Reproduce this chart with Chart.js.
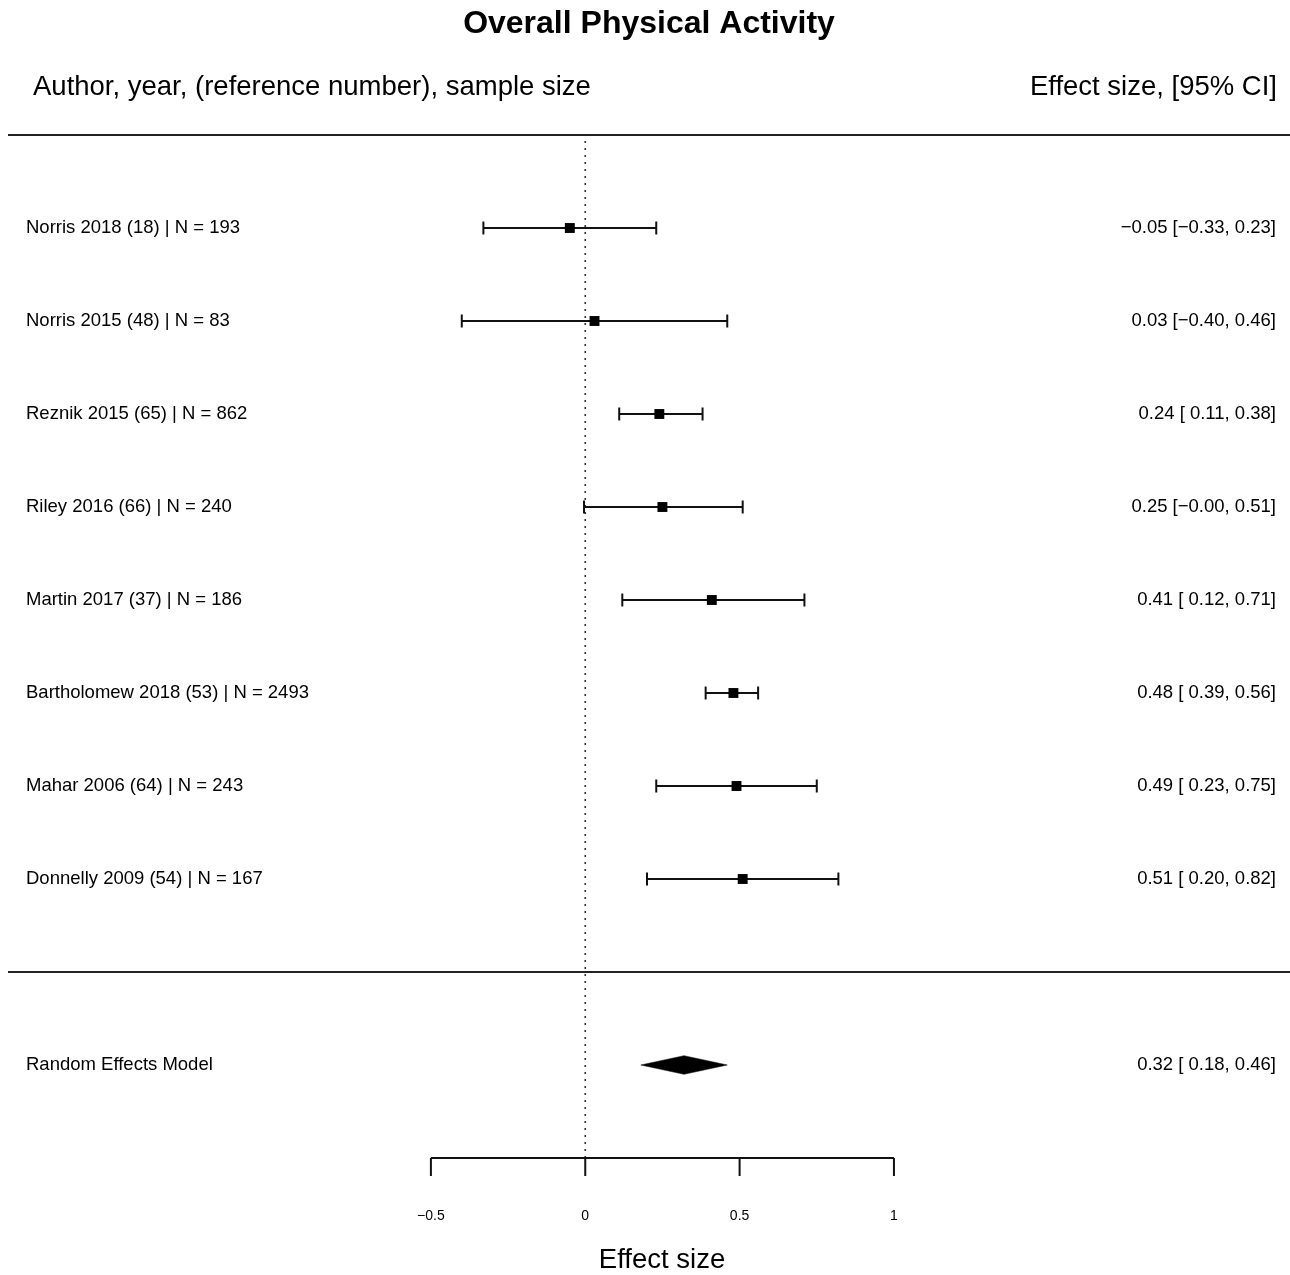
<!DOCTYPE html>
<html>
<head>
<meta charset="utf-8">
<script src="https://cdn.jsdelivr.net/npm/chart.js@4/dist/chart.umd.min.js"></script>
<style>
  html, body { margin: 0; padding: 0; background: #fff; overflow: hidden; }
  #wrap { width: 1290px; height: 1275px; position: relative; }
  #forest { display: block; }
</style>
</head>
<body>
<div id="wrap"><canvas id="forest"></canvas></div>
<script>
// study data, top to bottom
var studyLabels = [
    'Norris 2018 (18) | N = 193',
    'Norris 2015 (48) | N = 83',
    'Reznik 2015 (65) | N = 862',
    'Riley 2016 (66) | N = 240',
    'Martin 2017 (37) | N = 186',
    'Bartholomew 2018 (53) | N = 2493',
    'Mahar 2006 (64) | N = 243',
    'Donnelly 2009 (54) | N = 167'
];
var effectSizes = [-0.05, 0.03, 0.24, 0.25, 0.41, 0.48, 0.49, 0.51];
var ciLower = [-0.33, -0.40, 0.11, -0.004, 0.12, 0.39, 0.23, 0.20];
var ciUpper = [0.23, 0.46, 0.38, 0.51, 0.71, 0.56, 0.75, 0.82];

var summaryLabel = 'Random Effects Model';
var summaryEst = 0.32;
var summaryLower = 0.18;
var summaryUpper = 0.46;

var xTicks = [-0.5, 0, 0.5, 1];
var xTickLabels = ['\u22120.5', '0', '0.5', '1'];

// row layout (metafor style): axis row 1, summary row 2, separator row 3, studies above
var FONT = '"Liberation Sans", Arial, Helvetica, sans-serif';
var nStudies = studyLabels.length;
var rowOf = function (i) { return nStudies + 3 - i; };
var summaryRow = 2;
var sepRow = 3;
var topRow = nStudies + 4;
var axisRow = 1;
var diamondHalf = 0.1;

function fmt(v) {
    var s = Math.abs(v).toFixed(2);
    return v < 0 ? '\u2212' + s : s;
}
function fmtLo(v) {
    return v < 0 ? fmt(v) : ' ' + fmt(v);
}
function ciText(est, lo, hi) {
    return fmt(est) + ' [' + fmtLo(lo) + ', ' + fmt(hi) + ']';
}

var datasets = [];

// confidence intervals with whisker caps
studyLabels.forEach(function (lab, i) {
    datasets.push({
        data: [{x: ciLower[i], y: rowOf(i)}, {x: ciUpper[i], y: rowOf(i)}],
        showLine: true,
        borderColor: '#111',
        borderWidth: 2,
        pointStyle: 'line',
        rotation: 90,
        pointRadius: 6.5,
        pointBorderColor: '#111',
        pointBorderWidth: 2,
        order: 2
    });
});

// point estimates
datasets.push({
    data: effectSizes.map(function (v, i) { return {x: v, y: rowOf(i)}; }),
    pointStyle: 'rect',
    pointRadius: 7,
    backgroundColor: '#000',
    borderWidth: 0,
    pointBorderWidth: 0,
    order: 0
});

// summary diamond (upper and lower halves filled to the row)
datasets.push({
    data: [{x: summaryLower, y: summaryRow}, {x: summaryEst, y: summaryRow + diamondHalf}, {x: summaryUpper, y: summaryRow}],
    showLine: true, pointRadius: 0, borderWidth: 0.5, borderColor: '#000',
    backgroundColor: '#000', fill: {value: summaryRow}, order: 1
});
datasets.push({
    data: [{x: summaryLower, y: summaryRow}, {x: summaryEst, y: summaryRow - diamondHalf}, {x: summaryUpper, y: summaryRow}],
    showLine: true, pointRadius: 0, borderWidth: 0.5, borderColor: '#000',
    backgroundColor: '#000', fill: {value: summaryRow}, order: 1
});

// reference line at 0
datasets.push({
    data: [{x: 0, y: axisRow}, {x: 0, y: topRow - 0.05}],
    showLine: true, pointRadius: 0, borderColor: '#333', borderWidth: 1.6,
    borderDash: [2, 5], order: 3
});

var forestText = {
    id: 'forestText',
    afterDraw: function (chart) {
        var ctx = chart.ctx;
        var xs = chart.scales.x, ys = chart.scales.y;
        var area = chart.chartArea;
        ctx.save();

        // separator lines
        ctx.strokeStyle = '#222';
        ctx.lineWidth = 2;
        [topRow, sepRow].forEach(function (r) {
            var py = Math.round(ys.getPixelForValue(r));
            ctx.beginPath();
            ctx.moveTo(area.left, py);
            ctx.lineTo(area.right, py);
            ctx.stroke();
        });

        // x axis (only over the tick range)
        var ay = ys.getPixelForValue(axisRow);
        ctx.lineWidth = 2;
        ctx.strokeStyle = '#111';
        ctx.beginPath();
        ctx.moveTo(xs.getPixelForValue(xTicks[0]), ay);
        ctx.lineTo(xs.getPixelForValue(xTicks[xTicks.length - 1]), ay);
        xTicks.forEach(function (t) {
            var px = xs.getPixelForValue(t);
            ctx.moveTo(px, ay);
            ctx.lineTo(px, ay + 18);
        });
        ctx.stroke();

        ctx.fillStyle = '#000';
        ctx.textBaseline = 'middle';
        ctx.textAlign = 'center';
        ctx.font = '14px ' + FONT;
        xTicks.forEach(function (t, i) {
            ctx.fillText(xTickLabels[i], xs.getPixelForValue(t), ay + 58);
        });
        ctx.font = '27.5px ' + FONT;
        ctx.fillText('Effect size', 662, 1260);

        // column headers
        ctx.font = '27.5px ' + FONT;
        ctx.textAlign = 'left';
        ctx.fillText('Author, year, (reference number), sample size', 33, 87);
        ctx.textAlign = 'right';
        ctx.fillText('Effect size, [95% CI]', 1277, 87);

        // row labels and estimates
        ctx.font = '18.5px ' + FONT;
        studyLabels.forEach(function (lab, i) {
            var py = ys.getPixelForValue(rowOf(i));
            ctx.textAlign = 'left';
            ctx.fillText(lab, 26, py);
            ctx.textAlign = 'right';
            ctx.fillText(ciText(effectSizes[i], ciLower[i], ciUpper[i]), 1276, py);
        });
        var sy = ys.getPixelForValue(summaryRow);
        ctx.textAlign = 'left';
        ctx.fillText(summaryLabel, 26, sy);
        ctx.textAlign = 'right';
        ctx.fillText(ciText(summaryEst, summaryLower, summaryUpper), 1276, sy);

        ctx.restore();
    }
};

new Chart(document.getElementById('forest').getContext('2d'), {
    type: 'scatter',
    data: {datasets: datasets},
    options: {
        responsive: true,
        maintainAspectRatio: false,
        animation: false,
        layout: {autoPadding: false, padding: {left: 8, right: 0, top: 0, bottom: 117}},
        scales: {
            x: {type: 'linear', display: false, min: -1.870, max: 2.283},
            y: {type: 'linear', display: false, min: axisRow, max: topRow}
        },
        plugins: {
            legend: {display: false},
            tooltip: {enabled: false},
            title: {
                display: true,
                text: 'Overall Physical Activity',
                color: '#000',
                font: {family: FONT, size: 32, weight: 'bold', lineHeight: 1.2},
                padding: {top: 5, bottom: 91.6}
            }
        }
    },
    plugins: [forestText]
});
</script>
</body>
</html>
